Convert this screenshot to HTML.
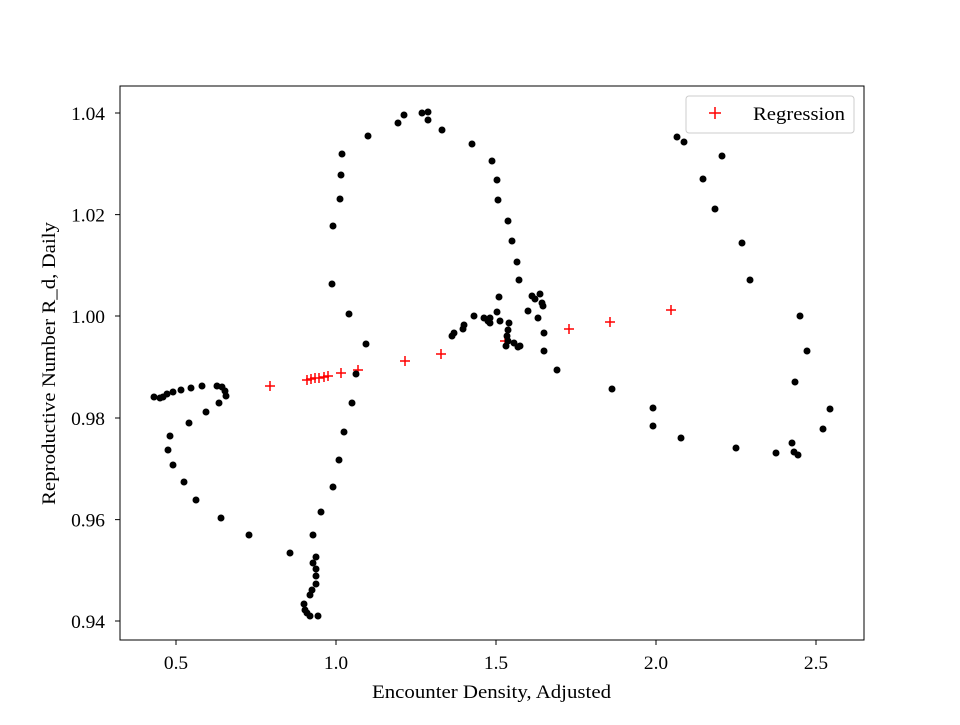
<!DOCTYPE html>
<html><head><style>body{margin:0;background:#fff}</style></head><body>
<svg width="960" height="720" xmlns="http://www.w3.org/2000/svg" font-family="'Liberation Serif', serif">
<rect width="960" height="720" fill="#fff"/>
<g stroke="red" stroke-width="1.5">
<path d="M265,386h10M270,381v10 M302,380h10M307,375v10 M306,379h10M311,374v10 M310,378h10M315,373v10 M314,378h10M319,373v10 M319,377h10M324,372v10 M323,376h10M328,371v10 M336,373h10M341,368v10 M353,370h10M358,365v10 M400,361h10M405,356v10 M436,354h10M441,349v10 M500,341h10M505,336v10 M564,329h10M569,324v10 M605,322h10M610,317v10 M666,310h10M671,305v10"/>
</g>
<g fill="#000">
<circle cx="154" cy="397" r="3.5"/><circle cx="160" cy="398" r="3.5"/><circle cx="163" cy="397" r="3.5"/><circle cx="167" cy="394" r="3.5"/><circle cx="173" cy="392" r="3.5"/><circle cx="181" cy="390" r="3.5"/><circle cx="191" cy="388" r="3.5"/><circle cx="202" cy="386" r="3.5"/><circle cx="217" cy="386" r="3.5"/><circle cx="222" cy="387" r="3.5"/><circle cx="225" cy="391" r="3.5"/><circle cx="226" cy="396" r="3.5"/><circle cx="219" cy="403" r="3.5"/><circle cx="206" cy="412" r="3.5"/><circle cx="189" cy="423" r="3.5"/><circle cx="170" cy="436" r="3.5"/><circle cx="168" cy="450" r="3.5"/><circle cx="173" cy="465" r="3.5"/><circle cx="184" cy="482" r="3.5"/><circle cx="196" cy="500" r="3.5"/><circle cx="221" cy="518" r="3.5"/><circle cx="249" cy="535" r="3.5"/><circle cx="290" cy="553" r="3.5"/><circle cx="304" cy="604" r="3.5"/><circle cx="305" cy="610" r="3.5"/><circle cx="307" cy="613" r="3.5"/><circle cx="310" cy="616" r="3.5"/><circle cx="318" cy="616" r="3.5"/><circle cx="310" cy="595" r="3.5"/><circle cx="312" cy="590" r="3.5"/><circle cx="316" cy="584" r="3.5"/><circle cx="316" cy="576" r="3.5"/><circle cx="316" cy="569" r="3.5"/><circle cx="313" cy="563" r="3.5"/><circle cx="316" cy="557" r="3.5"/><circle cx="313" cy="535" r="3.5"/><circle cx="321" cy="512" r="3.5"/><circle cx="333" cy="487" r="3.5"/><circle cx="339" cy="460" r="3.5"/><circle cx="344" cy="432" r="3.5"/><circle cx="352" cy="403" r="3.5"/><circle cx="356" cy="374" r="3.5"/><circle cx="366" cy="344" r="3.5"/><circle cx="349" cy="314" r="3.5"/><circle cx="332" cy="284" r="3.5"/><circle cx="333" cy="226" r="3.5"/><circle cx="340" cy="199" r="3.5"/><circle cx="341" cy="175" r="3.5"/><circle cx="342" cy="154" r="3.5"/><circle cx="368" cy="136" r="3.5"/><circle cx="398" cy="123" r="3.5"/><circle cx="404" cy="115" r="3.5"/><circle cx="422" cy="113" r="3.5"/><circle cx="428" cy="112" r="3.5"/><circle cx="428" cy="120" r="3.5"/><circle cx="442" cy="130" r="3.5"/><circle cx="472" cy="144" r="3.5"/><circle cx="492" cy="161" r="3.5"/><circle cx="497" cy="180" r="3.5"/><circle cx="498" cy="200" r="3.5"/><circle cx="508" cy="221" r="3.5"/><circle cx="512" cy="241" r="3.5"/><circle cx="517" cy="262" r="3.5"/><circle cx="519" cy="280" r="3.5"/><circle cx="499" cy="297" r="3.5"/>
<circle cx="452" cy="336" r="3.5"/><circle cx="454" cy="333" r="3.5"/><circle cx="463" cy="329" r="3.5"/><circle cx="464" cy="325" r="3.5"/><circle cx="474" cy="316" r="3.5"/><circle cx="484" cy="318" r="3.5"/><circle cx="488" cy="321" r="3.5"/><circle cx="490" cy="318" r="3.5"/><circle cx="497" cy="312" r="3.5"/><circle cx="490" cy="323" r="3.5"/><circle cx="500" cy="321" r="3.5"/><circle cx="509" cy="323" r="3.5"/><circle cx="508" cy="330" r="3.5"/><circle cx="507" cy="336" r="3.5"/><circle cx="508" cy="341" r="3.5"/><circle cx="506" cy="346" r="3.5"/><circle cx="514" cy="343" r="3.5"/><circle cx="520" cy="346" r="3.5"/><circle cx="528" cy="311" r="3.5"/><circle cx="532" cy="296" r="3.5"/><circle cx="540" cy="294" r="3.5"/><circle cx="535" cy="299" r="3.5"/><circle cx="542" cy="303" r="3.5"/><circle cx="543" cy="306" r="3.5"/><circle cx="538" cy="318" r="3.5"/><circle cx="544" cy="333" r="3.5"/><circle cx="544" cy="351" r="3.5"/><circle cx="518" cy="347" r="3.5"/>
<circle cx="557" cy="370" r="3.5"/><circle cx="612" cy="389" r="3.5"/><circle cx="653" cy="408" r="3.5"/><circle cx="653" cy="426" r="3.5"/><circle cx="681" cy="438" r="3.5"/><circle cx="736" cy="448" r="3.5"/><circle cx="776" cy="453" r="3.5"/><circle cx="792" cy="443" r="3.5"/><circle cx="794" cy="452" r="3.5"/><circle cx="798" cy="455" r="3.5"/><circle cx="823" cy="429" r="3.5"/><circle cx="830" cy="409" r="3.5"/><circle cx="807" cy="351" r="3.5"/><circle cx="800" cy="316" r="3.5"/><circle cx="795" cy="382" r="3.5"/><circle cx="750" cy="280" r="3.5"/><circle cx="742" cy="243" r="3.5"/><circle cx="715" cy="209" r="3.5"/><circle cx="703" cy="179" r="3.5"/><circle cx="722" cy="156" r="3.5"/><circle cx="684" cy="142" r="3.5"/><circle cx="677" cy="137" r="3.5"/>
</g>
<rect x="120" y="86" width="744" height="554" fill="none" stroke="#000" stroke-width="1"/>
<g stroke="#000" stroke-width="1">
<path d="M176,640v5M336,640v5M496,640v5M656,640v5M816,640v5M120,113h-5M120,214.6h-5M120,316h-5M120,418h-5M120,519.6h-5M120,621h-5"/>
</g>
<g font-size="19.4" fill="#000" text-anchor="middle">
<text x="176" y="669">0.5</text><text x="336" y="669">1.0</text><text x="496" y="669">1.5</text><text x="656" y="669">2.0</text><text x="816" y="669">2.5</text>
</g>
<text x="372" y="698" font-size="19.4" textLength="239" lengthAdjust="spacingAndGlyphs">Encounter Density, Adjusted</text>
<g font-size="19.4" fill="#000" text-anchor="end">
<text x="105" y="120">1.04</text><text x="105" y="221.6">1.02</text><text x="105" y="323">1.00</text><text x="105" y="425">0.98</text><text x="105" y="526.6">0.96</text><text x="105" y="628">0.94</text>
</g>
<text transform="translate(55,505) rotate(-90)" font-size="19.4" textLength="283" lengthAdjust="spacingAndGlyphs">Reproductive Number R_d, Daily</text>
<rect x="686" y="96" width="168" height="37" rx="3" fill="#fff" stroke="#ccc"/>
<path d="M709,113h12M715,107v12" stroke="red" stroke-width="1.5"/>
<text x="753" y="120" font-size="19.4" textLength="92" lengthAdjust="spacingAndGlyphs">Regression</text>
</svg>
</body></html>
